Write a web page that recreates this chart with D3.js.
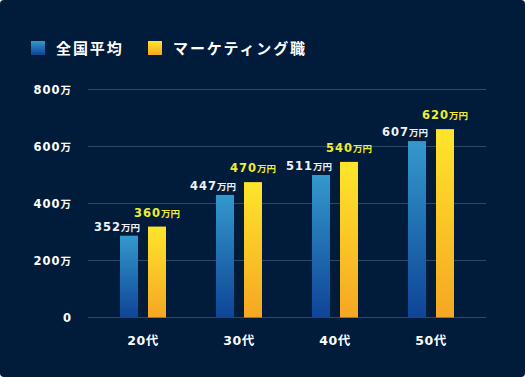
<!DOCTYPE html>
<html>
<head>
<meta charset="utf-8">
<script src="https://cdn.jsdelivr.net/npm/d3@7"></script>
<style>
  html, body { margin: 0; padding: 0; background: #ffffff; }
  svg { display: block; }
  text { font-family: "Noto Sans", "Noto Sans CJK JP", sans-serif; font-weight: 700; }
  .num { font-family: "DejaVu Sans", "Noto Sans CJK JP", sans-serif; }
</style>
</head>
<body>
<svg id="chart" width="525" height="377"></svg>
<script>
const ages        = ['20代', '30代', '40代', '50代'];
const avgBars     = [287, 430, 500, 619];   // bar heights as drawn
const mktBars     = [319, 475, 546, 661];
const avgLabels   = ['352', '447', '511', '607'];
const mktLabels   = ['360', '470', '540', '620'];
const yTicks      = [0, 200, 400, 600, 800];
const seriesNames = ['全国平均', 'マーケティング職'];

const svg = d3.select('#chart');
const defs = svg.append('defs');

function vGrad(id, top, bottom) {
    const g = defs.append('linearGradient').attr('id', id)
        .attr('x1', 0).attr('y1', 0).attr('x2', 0).attr('y2', 1);
    g.append('stop').attr('offset', '0%').attr('stop-color', top);
    g.append('stop').attr('offset', '100%').attr('stop-color', bottom);
}
vGrad('gBlue', '#3399cc', '#0e4497');
vGrad('gGold', '#fee52b', '#f6a623');

// card
svg.append('rect').attr('width', 525).attr('height', 377).attr('rx', 4)
    .attr('fill', '#011c3a');

const x = d3.scaleBand().domain(ages).range([95, 479]);
const y = d3.scaleLinear().domain([0, 800]).range([317.5, 89.5]);

// grid
svg.selectAll('.grid')
    .data(yTicks)
    .join('line')
    .attr('class', 'grid')
    .attr('x1', 88).attr('x2', 486)
    .attr('y1', d => y(d)).attr('y2', d => y(d))
    .attr('stroke', '#2d4868')
    .attr('stroke-width', 1);

// y labels
const yl = svg.selectAll('.yl')
    .data(yTicks)
    .join('text')
    .attr('class', 'yl num')
    .attr('x', 72)
    .attr('y', d => y(d) + 4)
    .attr('text-anchor', 'end')
    .attr('fill', '#ffffff')
    .attr('font-size', 11.5)
    .attr('letter-spacing', 1);
yl.append('tspan').text(d => d);
yl.append('tspan').attr('font-size', 10.5).text(d => d ? '万' : '');

// bars
const bw = 18, gap = 5;
const cx = d => x(d) + x.bandwidth() / 2;

svg.selectAll('.b1')
    .data(ages)
    .join('rect')
    .attr('class', 'b1')
    .attr('x', d => cx(d) - gap - bw)
    .attr('width', bw)
    .attr('y', (d, i) => y(avgBars[i]))
    .attr('height', (d, i) => y(0) - y(avgBars[i]))
    .attr('fill', 'url(#gBlue)');

svg.selectAll('.b2')
    .data(ages)
    .join('rect')
    .attr('class', 'b2')
    .attr('x', d => cx(d) + gap)
    .attr('width', bw)
    .attr('y', (d, i) => y(mktBars[i]))
    .attr('height', (d, i) => y(0) - y(mktBars[i]))
    .attr('fill', 'url(#gGold)');

// value labels
const l1 = svg.selectAll('.l1')
    .data(ages)
    .join('text')
    .attr('class', 'l1 num')
    .attr('x', d => cx(d) - gap + 2)
    .attr('y', (d, i) => y(avgBars[i]) - 5)
    .attr('text-anchor', 'end')
    .attr('fill', '#eef2f7')
    .attr('font-size', 11.5)
    .attr('letter-spacing', 1);
l1.append('tspan').text((d, i) => avgLabels[i]);
l1.append('tspan').attr('font-size', 9.5).attr('letter-spacing', 0).text('万円');

const l2 = svg.selectAll('.l2')
    .data(ages)
    .join('text')
    .attr('class', 'l2 num')
    .attr('x', d => cx(d) + gap + bw / 2)
    .attr('y', (d, i) => y(mktBars[i]) - 10)
    .attr('text-anchor', 'middle')
    .attr('fill', '#f2ec2e')
    .attr('font-size', 11.5)
    .attr('letter-spacing', 1);
l2.append('tspan').text((d, i) => mktLabels[i]);
l2.append('tspan').attr('font-size', 9.5).attr('letter-spacing', 0).text('万円');

// x labels
svg.selectAll('.xl')
    .data(ages)
    .join('text')
    .attr('class', 'xl num')
    .attr('x', d => cx(d))
    .attr('y', 345)
    .attr('text-anchor', 'middle')
    .attr('fill', '#ffffff')
    .attr('font-size', 12.5)
    .attr('letter-spacing', 0.6)
    .text(d => d);

// legend
const lg = [
    { x: 31, fill: 'url(#gBlue)', name: seriesNames[0] },
    { x: 148, fill: 'url(#gGold)', name: seriesNames[1] }
];
svg.selectAll('.lgr')
    .data(lg)
    .join('rect')
    .attr('class', 'lgr')
    .attr('x', d => d.x).attr('y', 41)
    .attr('width', 14).attr('height', 14)
    .attr('fill', d => d.fill);
svg.selectAll('.lgt')
    .data(lg)
    .join('text')
    .attr('class', 'lgt')
    .attr('x', d => d.x + 25)
    .attr('y', 54)
    .attr('fill', '#ffffff')
    .attr('font-size', 15)
    .attr('letter-spacing', 1.9)
    .text(d => d.name);
</script>
</body>
</html>
